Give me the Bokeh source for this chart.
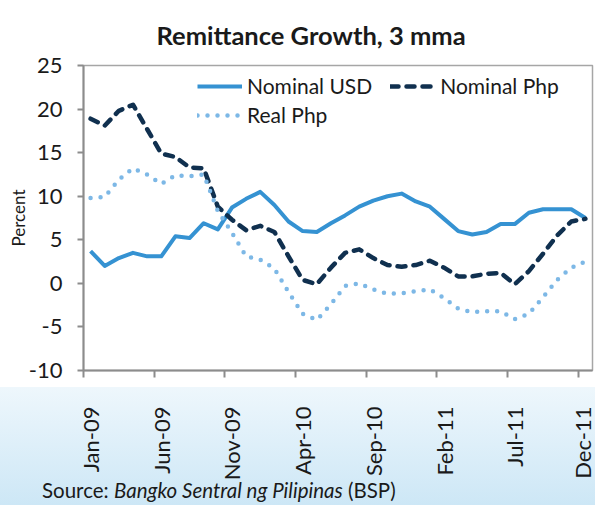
from bokeh.plotting import figure
from bokeh.models import Range1d, FixedTicker, Legend, LegendItem, Div, InlineStyleSheet, Title
from bokeh.layouts import column
from bokeh.embed import file_html
from bokeh.resources import INLINE
import math

# ---------------- data ----------------
months = ["Jan-09", "Feb-09", "Mar-09", "Apr-09", "May-09", "Jun-09", "Jul-09", "Aug-09",
          "Sep-09", "Oct-09", "Nov-09", "Dec-09", "Jan-10", "Feb-10", "Mar-10", "Apr-10",
          "May-10", "Jun-10", "Jul-10", "Aug-10", "Sep-10", "Oct-10", "Nov-10", "Dec-10",
          "Jan-11", "Feb-11", "Mar-11", "Apr-11", "May-11", "Jun-11", "Jul-11", "Aug-11",
          "Sep-11", "Oct-11", "Nov-11", "Dec-11"]
nominal_usd = [3.7, 2.0, 2.9, 3.5, 3.1, 3.1, 5.4, 5.2, 6.9, 6.2, 8.7, 9.7,
               10.5, 9.0, 7.1, 6.0, 5.9, 6.9, 7.8, 8.8, 9.5, 10.0, 10.3, 9.4,
               8.8, 7.4, 6.0, 5.6, 5.9, 6.8, 6.8, 8.1, 8.5, 8.5, 8.5, 7.5]
nominal_php = [18.9, 18.1, 19.8, 20.5, 17.7, 14.9, 14.5, 13.3, 13.2, 8.8, 7.3, 6.1,
               6.6, 5.9, 3.1, 0.4, -0.1, 1.8, 3.5, 3.9, 2.9, 2.1, 1.9, 2.1,
               2.6, 1.8, 0.8, 0.8, 1.1, 1.2, -0.1, 1.4, 3.4, 5.5, 7.1, 7.4]
real_php = [9.8, 9.9, 11.9, 13.2, 12.5, 11.4, 12.4, 12.3, 12.5, 8.3, 5.8, 3.1,
            2.7, 1.7, -1.0, -3.5, -4.2, -2.4, -0.3, 0.0, -0.7, -1.2, -1.15, -0.9,
            -0.7, -1.7, -2.9, -3.3, -3.2, -3.2, -4.1, -3.5, -1.6, 0.4, 1.8, 2.5]
series_names = ["Nominal USD", "Nominal Php", "Real Php"]
y_ticks = [-10, -5, 0, 5, 10, 15, 20, 25]
y_tick_labels = ["-10", "-5", "0", "5", "10", "15", "20", "25"]
label_every = 5
title_text = "Remittance Growth, 3 mma"
y_label = "Percent"
source_prefix = "Source:"
source_name = "Bangko Sentral ng Pilipinas"
source_suffix = "(BSP)"

# ---------------- styling ----------------
FONT = "Lato"
C_USD = "#3592D2"
C_NOM = "#10304F"
C_REAL = "#7DB8E6"
AXIS = "#8C8C8C"
TXT = "#1a1a1a"

n = len(months)
x = [i + 0.5 for i in range(n)]           # category centres
label_pos = x[::label_every]
tick_labels = months[::label_every]
boundaries = list(range(0, n, label_every))

p = figure(width=595, height=483, output_backend="svg", toolbar_location=None,
           x_range=Range1d(0, n), y_range=Range1d(y_ticks[0], y_ticks[-1]),
           min_border_left=83, min_border_right=3, min_border_top=65, min_border_bottom=110,
           background_fill_color="white", border_fill_color=None,
           outline_line_color="#A6A6A6", outline_line_width=1.5)
p.grid.visible = False
xa = p.below[0]
ya = p.left[0]

# title, pushed towards the top of the border
p.add_layout(Title(text=title_text, text_font=FONT, text_font_size="25.5px",
                   text_font_style="bold", text_color=TXT, align="left", offset=73,
                   vertical_align="top", standoff=28),
             "above")

# x axis
xa.ticker = FixedTicker(ticks=label_pos, minor_ticks=boundaries)
xa.major_label_overrides = {pos: lab for pos, lab in zip(label_pos, tick_labels)}
xa.major_label_orientation = math.pi / 2
xa.major_tick_line_color = None
xa.major_tick_in = 0
xa.major_tick_out = 7
xa.minor_tick_in = 0
xa.minor_tick_out = 7
xa.minor_tick_line_color = AXIS
xa.minor_tick_line_width = 2
xa.major_label_standoff = 29
# y axis
ya.ticker = FixedTicker(ticks=y_ticks)
ya.major_label_overrides = {t: lab for t, lab in zip(y_ticks, y_tick_labels)}
ya.major_tick_in = 0
ya.major_tick_out = 6
ya.minor_tick_line_color = None
ya.major_tick_line_color = AXIS
ya.major_tick_line_width = 2
ya.major_label_standoff = 15
ya.axis_label = y_label
ya.axis_label_text_font = FONT
ya.axis_label_text_font_size = "17px"
ya.axis_label_text_font_style = "normal"
ya.axis_label_text_color = TXT
ya.axis_label_standoff = -3
for ax in (xa, ya):
    ax.axis_line_color = AXIS
    ax.axis_line_width = 2
    ax.major_label_text_font = FONT
    ax.major_label_text_font_size = "22px"
    ax.major_label_text_color = TXT

r_usd = p.line(x, nominal_usd, line_color=C_USD, line_width=4, line_join="round")
r_nom = p.line(x, nominal_php, line_color=C_NOM, line_width=4.5, line_dash="8 8",
               line_cap="round", line_join="round")
r_real = p.line(x, real_php, line_color=C_REAL, line_width=4.5, line_dash="0 10",
                line_cap="round", line_join="round")

def make_legend(items, loc):
    lg = Legend(items=items, location=loc, orientation="horizontal",
                label_text_font=FONT, label_text_font_size="21px", label_text_color=TXT,
                glyph_width=45, glyph_height=22, label_height=22, label_standoff=5, spacing=18,
                padding=0, margin=0, border_line_color=None, background_fill_alpha=0)
    p.add_layout(lg, "center")

make_legend([LegendItem(label=series_names[0], renderers=[r_usd]),
             LegendItem(label=series_names[1], renderers=[r_nom])], (114, 272))
make_legend([LegendItem(label=series_names[2], renderers=[r_real])], (114, 243))

source = Div(text=(f'<div style="font-family:Lato; font-size:20.5px; color:{TXT}; '
                   f'padding-left:42px; line-height:30px; white-space:nowrap;">'
                   f'{source_prefix} <i>{source_name}</i> {source_suffix}</div>'),
             width=595, height=30, margin=(-8, 0, 0, 0))

page = column(p, source, spacing=0, margin=0,
              stylesheets=[InlineStyleSheet(css=":host { background: linear-gradient(to bottom, #ffffff 0px, #ffffff 387px, #EEF7FC 387px, #CDE7F6 505px); }")])

open("out.html", "w").write(file_html(page, INLINE))
